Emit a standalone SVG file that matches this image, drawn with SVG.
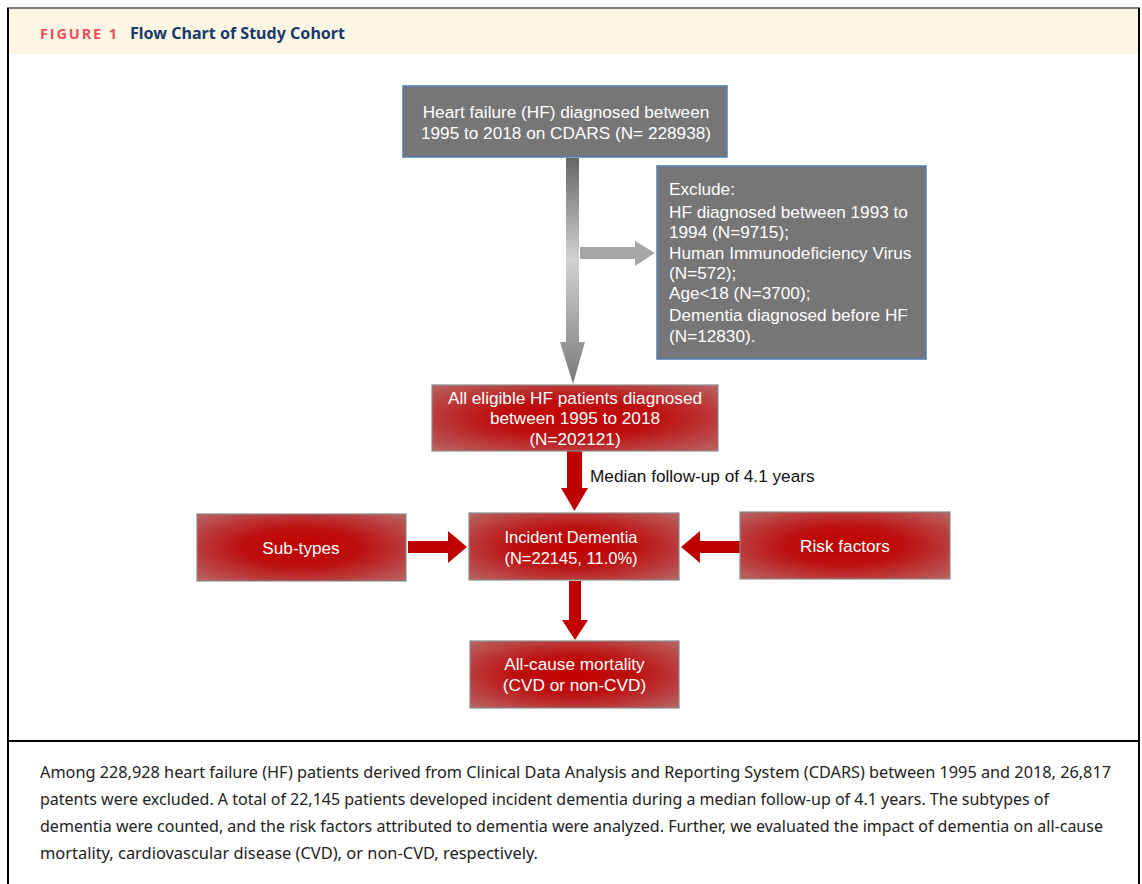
<svg xmlns="http://www.w3.org/2000/svg" width="1142" height="884" viewBox="0 0 1142 884">
<style>
.w{font-family:"Liberation Sans",Arial,sans-serif;font-size:17.2px;fill:#ffffff}
.wc{font-family:"Liberation Sans",Arial,sans-serif;font-size:17.2px;fill:#ffffff;text-anchor:middle}
.k{font-family:"Liberation Sans",Arial,sans-serif;font-size:17.2px;fill:#111111}
.cap{font-family:"Noto Sans","Open Sans",sans-serif;font-size:16px;fill:#222222}
.gbox{fill:#767676;stroke:#4f7fb8;stroke-width:1.5}
.rbox{fill:url(#rg);stroke:#8a8a8a;stroke-width:1.2}
.rarr{fill:#c00000}
</style>
<defs>
<radialGradient id="rg" cx="0.5" cy="0.5" r="0.72" gradientUnits="objectBoundingBox">
<stop offset="0" stop-color="#c20000"/>
<stop offset="0.4" stop-color="#bd1010"/>
<stop offset="1" stop-color="#b96868"/>
</radialGradient>
<linearGradient id="vg" x1="0" y1="158" x2="0" y2="384" gradientUnits="userSpaceOnUse">
<stop offset="0" stop-color="#666666"/>
<stop offset="0.45" stop-color="#d2d2d2"/>
<stop offset="1" stop-color="#7a7a7a"/>
</linearGradient>
</defs>
<rect x="0" y="0" width="1142" height="884" fill="#ffffff"/>
<rect x="8" y="9" width="1131" height="45" fill="#fdf6e4"/>
<line x1="7" y1="8" x2="1140" y2="8" stroke="#7a7a7a" stroke-width="2"/>
<line x1="8" y1="8" x2="8" y2="884" stroke="#000" stroke-width="2"/>
<line x1="1139" y1="8" x2="1139" y2="884" stroke="#000" stroke-width="2"/>
<line x1="8" y1="741" x2="1139" y2="741" stroke="#000" stroke-width="2"/>
<text x="40" y="39" font-family="'Open Sans','Noto Sans',sans-serif" font-size="14.5" font-weight="bold" fill="#e9505c" textLength="77" lengthAdjust="spacing">FIGURE 1</text>
<text x="130" y="39" font-family="'Noto Sans','Open Sans',sans-serif" font-size="16" font-weight="bold" fill="#173a6a" textLength="215" lengthAdjust="spacingAndGlyphs">Flow Chart of Study Cohort</text>

<g id="connectors">
<polygon fill="url(#vg)" points="566,158 579,158 579,342 585,342 573,384 560,342 566,342"/>
<polygon fill="#a6a6a6" points="580,247 635,247 635,241 655,253 635,266 635,259 580,259"/>
<polygon class="rarr" points="567,451 582,451 582,488 588,488 574.5,511 561,488 567,488"/>
<polygon class="rarr" points="408,541 448,541 448,531 467,547 448,563 448,553 408,553"/>
<polygon class="rarr" points="740,541 700,541 700,531 681,547 700,563 700,553 740,553"/>
<polygon class="rarr" points="569,581 581,581 581,620 588,620 575,640 562,620 569,620"/>
</g>

<g id="hf">
<rect class="gbox" x="403" y="86" width="324" height="71"/>
<text class="wc" x="566" y="118">Heart failure (HF) diagnosed between</text>
<text class="wc" x="566" y="139">1995 to 2018 on CDARS (N= 228938)</text>
</g>

<g id="exclude">
<rect class="gbox" x="657" y="166" width="269" height="193"/>
<text class="w" x="669" y="195">Exclude:</text>
<text class="w" x="669" y="218">HF diagnosed between 1993 to</text>
<text class="w" x="669" y="238">1994 (N=9715);</text>
<text class="w" x="669" y="259">Human Immunodeficiency Virus</text>
<text class="w" x="669" y="279">(N=572);</text>
<text class="w" x="669" y="299">Age&lt;18 (N=3700);</text>
<text class="w" x="669" y="321">Dementia diagnosed before HF</text>
<text class="w" x="669" y="342">(N=12830).</text>
</g>

<g id="eligible">
<rect class="rbox" x="432" y="385" width="286" height="66"/>
<text class="wc" x="575" y="404">All eligible HF patients diagnosed</text>
<text class="wc" x="575" y="424">between 1995 to 2018</text>
<text class="wc" x="575" y="445">(N=202121)</text>
</g>

<text class="k" x="590" y="482">Median follow-up of 4.1 years</text>

<g id="subtypes">
<rect class="rbox" x="197" y="514" width="209" height="67"/>
<text class="wc" x="301" y="554">Sub-types</text>
</g>

<g id="incident">
<rect class="rbox" x="469" y="513" width="210" height="67"/>
<text class="wc" x="571" y="543" style="font-size:16.5px">Incident Dementia</text>
<text class="wc" x="571" y="564" style="font-size:16.5px">(N=22145, 11.0%)</text>
</g>

<g id="risk">
<rect class="rbox" x="740" y="512" width="210" height="67"/>
<text class="wc" x="845" y="552">Risk factors</text>
</g>

<g id="mortality">
<rect class="rbox" x="470" y="641" width="209" height="67"/>
<text class="wc" x="574.5" y="670">All-cause mortality</text>
<text class="wc" x="574.5" y="691">(CVD or non-CVD)</text>
</g>

<text class="cap" x="40" y="778" textLength="1071" lengthAdjust="spacingAndGlyphs">Among 228,928 heart failure (HF) patients derived from Clinical Data Analysis and Reporting System (CDARS) between 1995 and 2018, 26,817</text>
<text class="cap" x="40" y="805" textLength="1009" lengthAdjust="spacingAndGlyphs">patents were excluded. A total of 22,145 patients developed incident dementia during a median follow-up of 4.1 years. The subtypes of</text>
<text class="cap" x="40" y="832" textLength="1063" lengthAdjust="spacingAndGlyphs">dementia were counted, and the risk factors attributed to dementia were analyzed. Further, we evaluated the impact of dementia on all-cause</text>
<text class="cap" x="40" y="859" textLength="498" lengthAdjust="spacingAndGlyphs">mortality, cardiovascular disease (CVD), or non-CVD, respectively.</text>
</svg>
